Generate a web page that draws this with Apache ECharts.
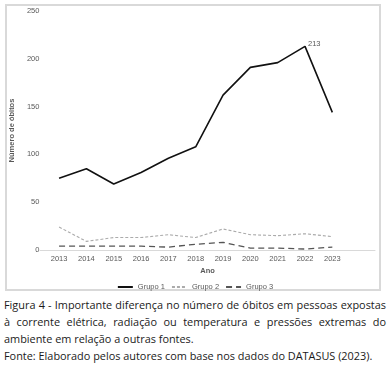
<!DOCTYPE html>
<html><head><meta charset="utf-8">
<script src="https://cdn.jsdelivr.net/npm/echarts@6/dist/echarts.min.js"></script>
<style>
html,body{margin:0;padding:0;background:#fff;width:390px;height:367px;overflow:hidden;}
#frame{position:absolute;left:5px;top:4px;width:376px;height:287px;border:2px solid #d9d9d9;box-sizing:border-box;}
#chart{position:absolute;left:0;top:0;width:390px;height:295px;}
#cap{position:absolute;left:4px;top:296px;width:382px;font-family:"Open Sans",sans-serif;font-size:10.9px;line-height:17px;color:#1a1a1a;text-align:justify;}
#cap p{margin:0;}
</style></head>
<body>
<div id="frame"></div>
<div id="chart"></div>
<div id="cap"><p>Figura 4 - Importante diferença no número de óbitos em pessoas expostas à corrente elétrica, radiação ou temperatura e pressões extremas do ambiente em relação a outras fontes.</p><p style="text-align:left">Fonte: Elaborado pelos autores com base nos dados do DATASUS (2023).</p></div>
<script>
const years = ['2013','2014','2015','2016','2017','2018','2019','2020','2021','2022','2023'];
const grupo1 = [75, 85, 69, 81, 96, 108, 162, 191, 196, 213, 144];
const grupo2 = [24, 9, 13, 13, 16, 13, 22, 16, 15, 17, 14];
const grupo3 = [4, 4, 4, 4, 3, 6, 8, 2, 2, 1, 3];
const yTicks = [0, 50, 100, 150, 200, 250];

const chart = echarts.init(document.getElementById('chart'), null, {renderer:'canvas'});
const txt = {fontFamily:'Liberation Sans, Arial, sans-serif', fontSize:7.5, color:'#595959'};
chart.setOption({
  animation:false,
  textStyle:{fontFamily:'Liberation Sans, Arial, sans-serif'},
  grid:[
    {left:40, top:11, width:306, bottom:45},
    {left:40, top:11, width:335, bottom:45}
  ],
  legend:{
    top:278, left:'center', itemWidth:15, itemHeight:8, itemGap:6,
    textStyle:Object.assign({}, txt),
    itemStyle:{opacity:0},
    data:['Grupo 1','Grupo 2','Grupo 3']
  },
  xAxis:[
    {type:'category', gridIndex:0, data:years, boundaryGap:true,
     axisLine:{show:false}, axisTick:{show:false},
     axisLabel:Object.assign({margin:5}, txt)},
    {type:'value', gridIndex:1, min:0, max:1, show:true,
     axisLine:{show:true, lineStyle:{color:'#d9d9d9', width:1}},
     axisTick:{show:false}, axisLabel:{show:false}, splitLine:{show:false},
     name:'Ano', nameLocation:'middle', nameGap:17,
     nameTextStyle:Object.assign({}, txt, {fontWeight:'bold'})}
  ],
  yAxis:[
    {type:'value', gridIndex:0, min:yTicks[0], max:yTicks[yTicks.length-1], interval:50,
     axisLine:{show:false}, axisTick:{show:false}, splitLine:{show:false},
     axisLabel:Object.assign({margin:6}, txt),
     name:'Número de óbitos', nameLocation:'middle', nameGap:11, nameRotate:90,
     nameTextStyle:Object.assign({}, txt, {fontWeight:'bold'})},
    {type:'value', gridIndex:1, min:0, max:1, show:false}
  ],
  series:[
    {name:'Grupo 1', type:'line', data:grupo1, xAxisIndex:0, yAxisIndex:0,
     symbol:'circle', symbolSize:0, showSymbol:true,
     lineStyle:{color:'#111', width:1.6, type:'solid'}, itemStyle:{color:'#111'},
     label:{show:true, formatter:function(p){return p.dataIndex===9?String(p.value):'';}, position:'right', distance:3, fontSize:7.5, color:'#595959', fontFamily:'Liberation Sans, Arial, sans-serif', offset:[0,-2]}},
    {name:'Grupo 2', type:'line', data:grupo2, xAxisIndex:0, yAxisIndex:0, symbol:'none',
     lineStyle:{color:'#ababab', width:1.1, type:[3,2]}, itemStyle:{color:'#ababab'}},
    {name:'Grupo 3', type:'line', data:grupo3, xAxisIndex:0, yAxisIndex:0, symbol:'none',
     lineStyle:{color:'#555', width:1.3, type:[6,4]}, itemStyle:{color:'#555'}}
  ]
});
</script>
</body></html>
